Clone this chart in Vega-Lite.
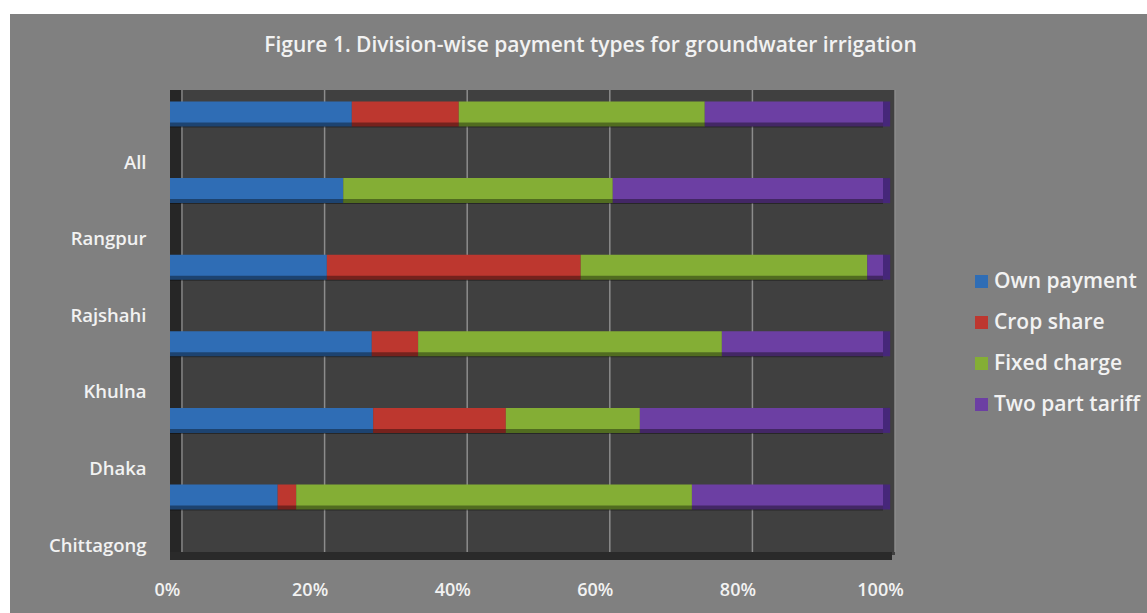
{
"$schema":"https://vega.github.io/schema/vega-lite/v6.json",
"width":1137,"height":599,"autosize":"none",
"padding":{"left":10,"top":14,"right":0,"bottom":0},
"background":"#ffffff",
"title":{"text":"Figure 1. Division-wise payment types for groundwater irrigation","anchor":"middle","dx":12,"dy":46,"color":"#f2f2f2","font":"Open Sans","fontSize":21,"fontWeight":600},
"config":{"view":{"fill":"#808080","stroke":null}},
"datasets":{
"payments":[
{"division":"All","payment":"Own payment","rank":1,"share":25.5},
{"division":"All","payment":"Crop share","rank":2,"share":15.0},
{"division":"All","payment":"Fixed charge","rank":3,"share":34.5},
{"division":"All","payment":"Two part tariff","rank":4,"share":25.0},
{"division":"Rangpur","payment":"Own payment","rank":1,"share":24.3},
{"division":"Rangpur","payment":"Crop share","rank":2,"share":0},
{"division":"Rangpur","payment":"Fixed charge","rank":3,"share":37.8},
{"division":"Rangpur","payment":"Two part tariff","rank":4,"share":37.9},
{"division":"Rajshahi","payment":"Own payment","rank":1,"share":22.0},
{"division":"Rajshahi","payment":"Crop share","rank":2,"share":35.6},
{"division":"Rajshahi","payment":"Fixed charge","rank":3,"share":40.2},
{"division":"Rajshahi","payment":"Two part tariff","rank":4,"share":2.2},
{"division":"Khulna","payment":"Own payment","rank":1,"share":28.3},
{"division":"Khulna","payment":"Crop share","rank":2,"share":6.5},
{"division":"Khulna","payment":"Fixed charge","rank":3,"share":42.6},
{"division":"Khulna","payment":"Two part tariff","rank":4,"share":22.6},
{"division":"Dhaka","payment":"Own payment","rank":1,"share":28.5},
{"division":"Dhaka","payment":"Crop share","rank":2,"share":18.6},
{"division":"Dhaka","payment":"Fixed charge","rank":3,"share":18.8},
{"division":"Dhaka","payment":"Two part tariff","rank":4,"share":34.1},
{"division":"Chittagong","payment":"Own payment","rank":1,"share":15.1},
{"division":"Chittagong","payment":"Crop share","rank":2,"share":2.6},
{"division":"Chittagong","payment":"Fixed charge","rank":3,"share":55.5},
{"division":"Chittagong","payment":"Two part tariff","rank":4,"share":26.8}
],
"ticks":[{"tick":0},{"tick":20},{"tick":40},{"tick":60},{"tick":80},{"tick":100}]
},
"data":{"name":"payments"},
"layer":[
{"mark":{"type":"rect","color":"#404040","yOffset":-24,"y2Offset":58},
 "encoding":{
  "x":{"datum":0,"type":"quantitative","title":null,"scale":{"domain":[0,101.68],"range":[160,885],"nice":false,"zero":false},
   "axis":{"title":null,"values":[0,20,40,60,80,100],"labelExpr":"datum.value + '%'","domain":false,"ticks":false,"grid":false,"offset":-53,"tickOffset":12,"labelOffset":-15,"labelPadding":21,"labelFlush":false,"labelColor":"#f2f2f2","labelFont":"Open Sans","labelFontSize":18,"labelFontWeight":600}},
  "x2":{"datum":101.68},
  "y":{"datum":"All","type":"nominal","title":null,"scale":{"type":"point","domain":["All","Rangpur","Rajshahi","Khulna","Dhaka","Chittagong"],"range":[100,483],"padding":0},
   "axis":{"title":null,"domain":false,"ticks":false,"grid":false,"offset":-160,"labelOffset":48,"labelPadding":24,"labelColor":"#f2f2f2","labelFont":"Open Sans","labelFontSize":18.5,"labelFontWeight":600}},
  "y2":{"datum":"Chittagong"}}},
{"mark":{"type":"rect","color":"#262626","yOffset":-24,"y2Offset":61},
 "encoding":{
  "x":{"datum":0,"type":"quantitative","title":null},
  "x2":{"datum":1.7},
  "y":{"datum":"All","type":"nominal","title":null},
  "y2":{"datum":"Chittagong"}}},
{"mark":{"type":"rect","color":"#2a2a2a","yOffset":55,"y2Offset":63},
 "encoding":{
  "x":{"datum":0,"type":"quantitative","title":null},
  "x2":{"datum":101.2},
  "y":{"datum":"Chittagong","type":"nominal","title":null},
  "y2":{"datum":"Chittagong"}}},
{"data":{"name":"ticks"},
 "mark":{"type":"rule","color":"#8c8c8c","strokeWidth":1.5,"xOffset":12,"yOffset":-24,"y2Offset":55},
 "encoding":{
  "x":{"field":"tick","type":"quantitative","title":null},
  "y":{"datum":"All","type":"nominal","title":null},
  "y2":{"datum":"Chittagong"}}},
{"transform":[{"filter":"datum.payment === 'Two part tariff'"}],
 "mark":{"type":"bar","color":"#46277a","size":25},
 "encoding":{
  "x":{"datum":100,"type":"quantitative","title":null},
  "x2":{"datum":101},
  "y":{"field":"division","type":"nominal","title":null}}},
{"mark":{"type":"bar","size":25},
 "encoding":{
  "x":{"field":"share","type":"quantitative","stack":"zero","title":null},
  "y":{"field":"division","type":"nominal","title":null},
  "color":{"field":"payment","type":"nominal",
   "scale":{"domain":["Own payment","Crop share","Fixed charge","Two part tariff"],"range":["#2f6db5","#bd372f","#84ae35","#6c3fa3"]},
   "legend":{"title":null,"orient":"none","legendX":961,"legendY":257,"symbolType":"square","symbolSize":170,"symbolStrokeWidth":0,"symbolOpacity":1,"labelColor":"#f2f2f2","labelFont":"Open Sans","labelFontSize":21,"labelFontWeight":600,"rowPadding":19,"labelOffset":2,"padding":0}},
  "order":{"field":"rank"}}},
{"mark":{"type":"bar","size":5,"color":"#000000","opacity":0.38,"yOffset":11},
 "encoding":{
  "x":{"field":"share","type":"quantitative","stack":"zero","title":null},
  "y":{"field":"division","type":"nominal","title":null},
  "detail":{"field":"payment"},
  "order":{"field":"rank"}}}
]
}
